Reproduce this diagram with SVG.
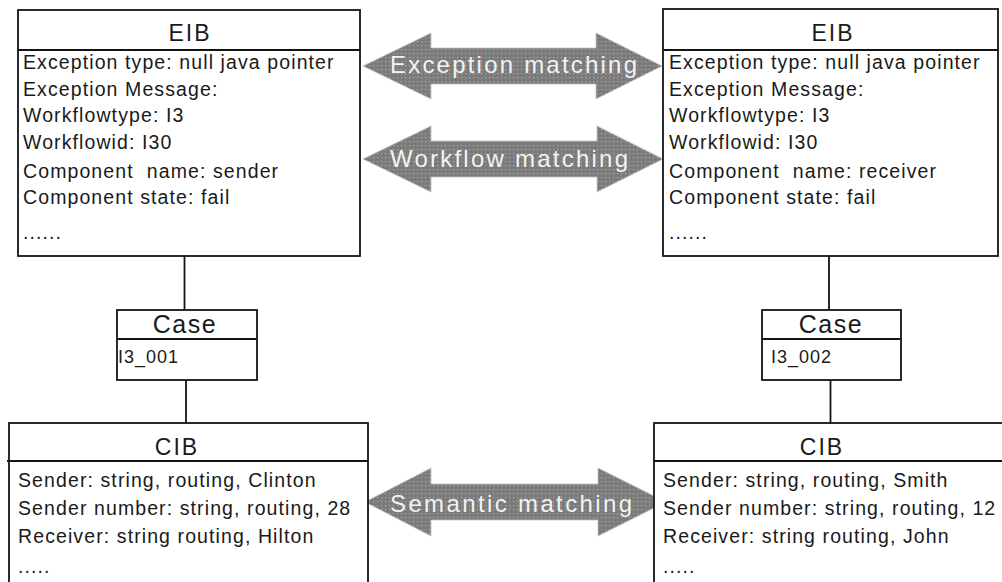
<svg xmlns="http://www.w3.org/2000/svg" width="1002" height="582" viewBox="0 0 1002 582">
  <defs>
    <pattern id="dots" width="4" height="4" patternUnits="userSpaceOnUse">
      <rect width="4" height="4" fill="#7b7b7b"/>
      <rect x="1" y="1" width="1.2" height="1.2" fill="#ababab"/>
    </pattern>
    <style>
      .box { fill: #ffffff; stroke: #141414; stroke-width: 1.8; }
      .rule { stroke: #141414; stroke-width: 1.8; fill: none; }
      .link { stroke: #141414; stroke-width: 1.8; }
      .title { font-family: "Liberation Sans", Arial, sans-serif; font-size: 23px; fill: #1a1a1a; text-anchor: middle; letter-spacing: 2px; }
      .row { font-family: "Liberation Sans", Arial, sans-serif; font-size: 19.5px; fill: #1a1a1a; letter-spacing: 1.1px; white-space: pre; }
      .cid { font-family: "Liberation Sans", Arial, sans-serif; font-size: 18px; fill: #1a1a1a; letter-spacing: 1px; }
      .arrow { fill: url(#dots); stroke: #c4c4c4; stroke-width: 0.8; }
      .alabel { font-family: "Liberation Sans", Arial, sans-serif; font-size: 24px; fill: #f2f2f2; }
    </style>
  </defs>

  <rect width="1002" height="582" fill="#ffffff"/>

  <!-- connectors -->
  <g id="connectors">
    <line class="link" x1="184.5" y1="256" x2="184.5" y2="310"/>
    <line class="link" x1="186" y1="380" x2="186" y2="423"/>
    <line class="link" x1="829" y1="256" x2="829" y2="310"/>
    <line class="link" x1="830.5" y1="380" x2="830.5" y2="423"/>

    <g id="exception-matching">
      <polygon class="arrow" points="363,66 431,33 431,48 596,48 596,33 662,66 596,99 596,84 431,84 431,99"/>
      <text class="alabel" x="390" y="73" textLength="247" lengthAdjust="spacing">Exception matching</text>
    </g>
    <g id="workflow-matching">
      <polygon class="arrow" points="363,159 431,126 431,141 597,141 597,126 663,159 597,192 597,177 431,177 431,192"/>
      <text class="alabel" x="390" y="167" textLength="238" lengthAdjust="spacing">Workflow matching</text>
    </g>
    <g id="semantic-matching">
      <polygon class="arrow" points="365,502 431,468 431,484 598,484 598,468 666,502 598,536 598,520 431,520 431,536"/>
      <text class="alabel" x="390" y="512" textLength="242" lengthAdjust="spacing">Semantic matching</text>
    </g>
  </g>

  <!-- sender side exception block -->
  <g id="eib-left">
    <rect class="box" x="18" y="10" width="342" height="246"/>
    <line class="rule" x1="18" y1="50" x2="360" y2="50"/>
    <text class="title" x="190" y="41">EIB</text>
    <text class="row" x="23" y="69">Exception type: null java pointer</text>
    <text class="row" x="23" y="96">Exception Message:</text>
    <text class="row" x="23" y="122">Workflowtype: I3</text>
    <text class="row" x="23" y="149">Workflowid: I30</text>
    <text class="row" x="23" y="178" xml:space="preserve">Component  name: sender</text>
    <text class="row" x="23" y="204">Component state: fail</text>
    <text class="row" x="23" y="239">......</text>
  </g>

  <!-- receiver side exception block -->
  <g id="eib-right">
    <rect class="box" x="663" y="9" width="335" height="247"/>
    <line class="rule" x1="663" y1="50" x2="998" y2="50"/>
    <text class="title" x="833" y="41">EIB</text>
    <text class="row" x="669" y="69">Exception type: null java pointer</text>
    <text class="row" x="669" y="96">Exception Message:</text>
    <text class="row" x="669" y="122">Workflowtype: I3</text>
    <text class="row" x="669" y="149">Workflowid: I30</text>
    <text class="row" x="669" y="178" xml:space="preserve">Component  name: receiver</text>
    <text class="row" x="669" y="204">Component state: fail</text>
    <text class="row" x="669" y="239">......</text>
  </g>

  <!-- cases -->
  <g id="case-left">
    <rect class="box" x="117" y="310" width="140" height="70"/>
    <line class="rule" x1="117" y1="339" x2="257" y2="339"/>
    <text class="title" x="185" y="333" style="font-size:25px;letter-spacing:1.5px">Case</text>
    <text class="cid" x="118" y="363">I3_001</text>
  </g>
  <g id="case-right">
    <rect class="box" x="762" y="310" width="139" height="70"/>
    <line class="rule" x1="762" y1="339" x2="901" y2="339"/>
    <text class="title" x="831" y="333" style="font-size:25px;letter-spacing:1.5px">Case</text>
    <text class="cid" x="771" y="363">I3_002</text>
  </g>

  <!-- content blocks -->
  <g id="cib-left">
    <rect class="box" x="9" y="423" width="359" height="180"/>
    <line class="rule" x1="7" y1="461" x2="368" y2="461"/>
    <text class="title" x="177" y="455">CIB</text>
    <text class="row" x="18" y="487">Sender: string, routing, Clinton</text>
    <text class="row" x="18" y="515">Sender number: string, routing, 28</text>
    <text class="row" x="18" y="543">Receiver: string routing, Hilton</text>
    <text class="row" x="18" y="573">.....</text>
  </g>
  <g id="cib-right">
    <rect class="box" x="654" y="423" width="360" height="180"/>
    <line class="rule" x1="653" y1="461" x2="1002" y2="461"/>
    <text class="title" x="822" y="455">CIB</text>
    <text class="row" x="663" y="487">Sender: string, routing, Smith</text>
    <text class="row" x="663" y="515">Sender number: string, routing, 12</text>
    <text class="row" x="663" y="543">Receiver: string routing, John</text>
    <text class="row" x="663" y="573">.....</text>
  </g>
</svg>
